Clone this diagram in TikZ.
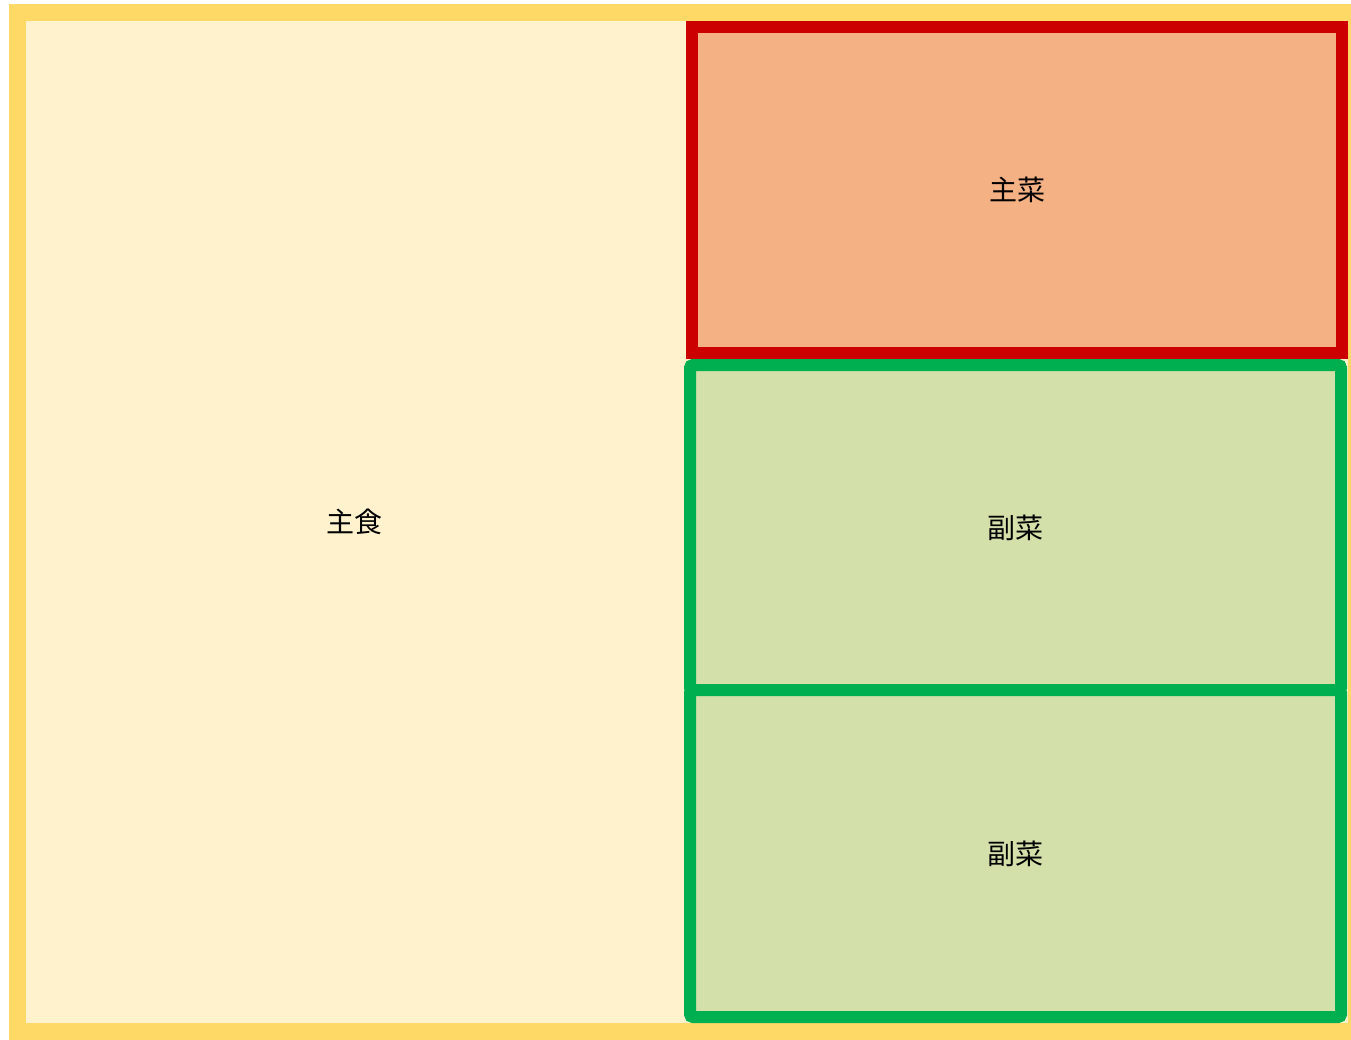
\documentclass[tikz,border=0pt]{standalone}
\usepackage{fontspec}
\newfontfamily\cjk{Noto Sans CJK JP}
\definecolor{creamfill}{HTML}{FFF2CC}
\definecolor{yellowline}{HTML}{FFD966}
\definecolor{redline}{HTML}{CC0000}
\definecolor{orangefill}{HTML}{F4B183}
\definecolor{greenline}{HTML}{00B050}
\definecolor{greenfill}{HTML}{D4E0AA}
\tikzset{
  box/.style={rectangle, inner sep=0pt, outer sep=0pt, font=\cjk\fontsize{28}{33}\selectfont, text=black},
  traybox/.style={box, draw=yellowline, fill=creamfill, line width=17pt},
  mainbox/.style={box, draw=redline, fill=orangefill, line width=12pt},
  sidebox/.style={box, draw=greenline, fill=greenfill, line width=12pt, rounded corners=3pt},
}
\begin{document}
\begin{tikzpicture}[x=1pt,y=-1pt]
\useasboundingbox (0,0) rectangle (1351,1039);
\clip (0,0) rectangle (1351,1039);
\node[traybox, minimum width=1339pt, minimum height=1019pt] (tray) at (687,522) {};
\node[box] (staple) at (354,522) {主食};
\node[mainbox, minimum width=650pt, minimum height=325.5pt] (main) at (1017,189.75) {主菜};
\node[sidebox, minimum width=651pt, minimum height=325.5pt] (side1) at (1015.5,527.75) {副菜};
\node[sidebox, minimum width=651pt, minimum height=327pt] (side2) at (1015.5,853.5) {副菜};
\end{tikzpicture}
\end{document}
